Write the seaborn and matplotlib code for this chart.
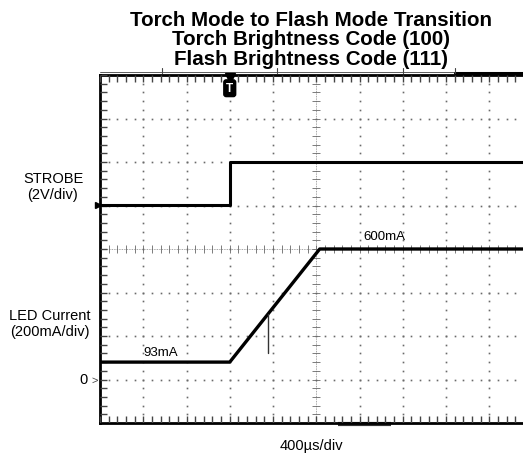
"""
Scope capture redraw: torch mode to flash mode transition (STROBE and LED current).
"""
import numpy as np
import pandas as pd
import seaborn as sns
import matplotlib.pyplot as plt
from matplotlib.transforms import blended_transform_factory

# time in microseconds, relative to the trigger
strobe_t = [-1200, 0, 0, 2800]
strobe_v = [0.0, 0.0, 2.0, 2.0]

led_t = [-1200, 0, 832, 2800]
led_ma = [80, 80, 600, 600]

# small spike on the ramp
glitch_t = [352, 352]
glitch_ma = [300, 124]

title_lines = ["Torch Mode to Flash Mode Transition",
               "Torch Brightness Code (100)",
               "Flash Brightness Code (111)"]

sns.set_style("white")
plt.rcParams["font.family"] = ["Liberation Sans", "DejaVu Sans"]
plt.rcParams["text.color"] = "black"

W, H = 523, 460
fig = plt.figure(figsize=(W / 100, H / 100), dpi=100)

# axes spans 10 divisions, the right part falls outside the picture like the screenshot
left, right, top, bottom = 100, 532.5, 76, 424
ax = fig.add_axes([left / W, 1 - bottom / H, (right - left) / W, (bottom - top) / H])

# LED current trace
led = pd.DataFrame({"t": led_t, "mA": led_ma})
sns.lineplot(data=led, x="t", y="mA", ax=ax, color="black", lw=2.4,
             estimator=None, sort=False, zorder=5)
ax.plot(glitch_t, glitch_ma, color="#333333", lw=1, zorder=5)
ax.set_xlabel("")
ax.set_ylabel("")
ax.set_xlim(-1200, 2800)
ax.set_ylim(-200, 1400)
ax.set_xticks([])
ax.set_yticks([])

# scope graticule: dotted divisions
grid_col = "#6a6a6a"
ys = np.arange(-200, 1400.1, 40)
xs = np.arange(-1200, 2800.1, 80)
for gx in [-800, -400, 0, 400, 1200, 1600, 2000, 2400]:
    ax.plot([gx] * len(ys), ys, ls="none", marker="s", ms=1.2, mew=0, color=grid_col, zorder=1)
for gy in [0, 200, 400, 800, 1000, 1200]:
    ax.plot(xs, [gy] * len(xs), ls="none", marker="s", ms=1.2, mew=0, color=grid_col, zorder=1)

# center crosshair with sub-division ticks
ax.axvline(800, color="#888888", lw=0.6, ls=(0, (1, 1)), zorder=1)
ax.axhline(600, color="#888888", lw=0.6, ls=(0, (1, 1)), zorder=1)
ax.plot([800] * len(ys), ys, ls="none", marker="_", ms=6, mew=0.6, color="#666666", zorder=1)
ax.plot(xs, [600] * len(xs), ls="none", marker="|", ms=6, mew=0.6, color="#666666", zorder=1)

# border ticks, every fifth of a division, pointing inward
tlen_x = 7 / (right - left) * 4000
tlen_y = 7 / (bottom - top) * 1600
ax.vlines(xs, -200, -200 + tlen_y, color="#444444", lw=1.0, zorder=4)
ax.vlines(xs, 1400 - tlen_y, 1400, color="#444444", lw=1.0, zorder=4)
ax.hlines(ys, -1200, -1200 + tlen_x, color="#444444", lw=1.0, zorder=4)

for side in ["left", "top", "bottom"]:
    ax.spines[side].set_visible(True)
    ax.spines[side].set_linewidth(2)
    ax.spines[side].set_color("black")
ax.spines["right"].set_visible(False)

# STROBE on its own volt scale (2V/div, ground at division 5)
ax2 = ax.twinx()
strobe = pd.DataFrame({"t": strobe_t, "V": strobe_v})
sns.lineplot(data=strobe, x="t", y="V", ax=ax2, color="black", lw=2.2,
             estimator=None, sort=False, zorder=5)
ax2.set_ylim(-10, 6)
ax2.set_ylabel("")
ax2.set_yticks([])
ax2.patch.set_visible(False)
for s in ax2.spines.values():
    s.set_visible(False)

# ground markers on the left edge
tr2 = blended_transform_factory(ax.transAxes, ax2.transData)
ax2.plot([-0.004], [0], marker=">", ms=5, color="black", transform=tr2, clip_on=False)
tr1 = blended_transform_factory(ax.transAxes, ax.transData)
ax.text(-0.006, 0, ">", transform=tr1, ha="right", va="center", fontsize=8, color="#444444")

# top edge marks
trx = blended_transform_factory(ax.transData, ax.transAxes)
ax.plot([-1200, 2800], [1.009, 1.009], color="#444444", lw=0.6, transform=trx, clip_on=False)
ax.plot([2080, 2800], [1.006, 1.006], color="black", lw=2.2, transform=trx, clip_on=False)
for mx in [-630, 440, 1600, 2080]:
    ax.plot([mx, mx], [1.006, 1.02], color="#444444", lw=0.8, transform=trx, clip_on=False)
# bottom edge bar
ax.plot([1000, 1490], [-0.004, -0.004], color="#333333", lw=3, transform=trx,
        clip_on=False, solid_capstyle="butt")

# trigger marker
ax.plot([0], [0.99], marker="v", ms=7.5, color="black", transform=trx, clip_on=False, zorder=6)
ax.text(0, 0.962, "T", transform=trx, ha="center", va="center", color="white",
        fontsize=8.5, fontweight="bold",
        bbox=dict(boxstyle="round,pad=0.2", fc="black", ec="black"), zorder=6)

# trace annotations
ax.text(-800, 125, "93mA", fontsize=9.5, ha="left", va="center")
ax.text(1235, 660, "600mA", fontsize=9.5, ha="left", va="center")

# labels outside the graticule
for i, line in enumerate(title_lines):
    fig.text(311 / W, 1 - (20.5 + 19.5 * i) / H, line, ha="center", va="center",
             fontsize=14.8, fontweight="bold")
fig.text(53 / W, 1 - 187 / H, "STROBE\n(2V/div)", ha="center", va="center",
         fontsize=10.5, linespacing=1.25)
fig.text(50 / W, 1 - 324 / H, "LED Current\n(200mA/div)", ha="center", va="center",
         fontsize=10.5, linespacing=1.25)
fig.text(84 / W, 1 - 380 / H, "0", ha="center", va="center", fontsize=10.5)
fig.text(311 / W, 1 - 446 / H, "400µs/div", ha="center", va="center", fontsize=10.5)

fig.savefig("out.png", dpi=100)
